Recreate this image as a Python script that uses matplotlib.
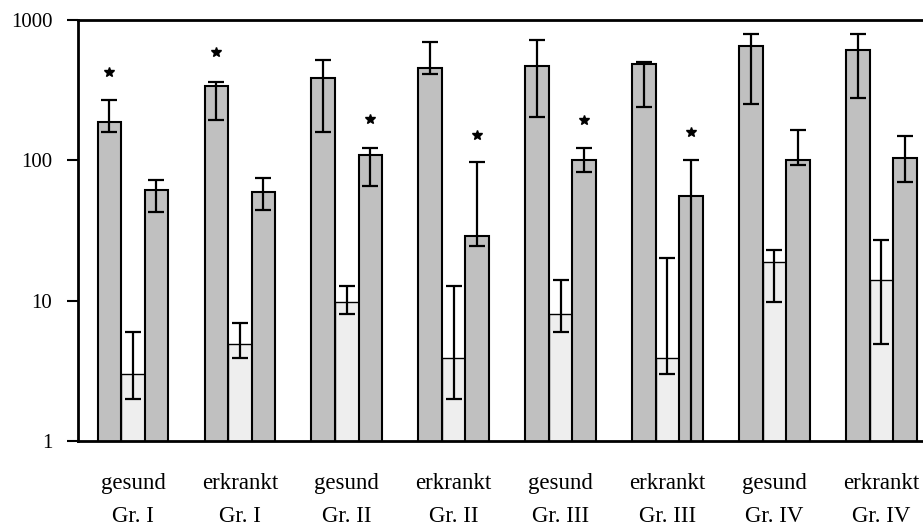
import numpy as np
import matplotlib
matplotlib.use('Agg')
import matplotlib.pyplot as plt

# data (log scale)
status = ['gesund', 'erkrankt', 'gesund', 'erkrankt', 'gesund', 'erkrankt', 'gesund', 'erkrankt']
groups = ['Gr. I', 'Gr. I', 'Gr. II', 'Gr. II', 'Gr. III', 'Gr. III', 'Gr. IV', 'Gr. IV']

a_val = [187, 337, 385, 453, 469, 484, 650, 609]
a_lo = [159, 195, 159, 415, 202, 238, 252, 278]
a_hi = [271, 364, 520, 698, 725, 503, 796, 796]

b_val = [3.0, 4.9, 9.8, 3.9, 8.0, 3.9, 18.8, 14.0]
b_lo = [2.0, 3.9, 8.1, 2.0, 6.0, 3.0, 9.8, 4.9]
b_hi = [6.0, 6.9, 12.8, 12.8, 14.1, 20.3, 23.0, 27.2]

c_val = [61, 59, 110, 28.8, 100, 55.5, 100, 103.5]
c_lo = [43, 44, 66, 24.7, 83, 0.5, 92, 70.5]
c_hi = [72.5, 75, 123, 97, 123, 101, 165, 149]

# significance stars: (group, bar 0=a / 2=c, height)
star_grp = [0, 1, 2, 3, 4, 5]
star_bar = [0, 0, 2, 2, 2, 2]
star_y = [427, 593, 197, 152, 194, 159]

dark = '#c0c0c0'
light = '#eeeeee'
w = 0.22

plt.rcParams['font.family'] = ['Liberation Serif', 'DejaVu Serif']

fig = plt.figure(figsize=(9.23, 5.27), dpi=100)
ax = fig.add_axes([78 / 923, 86 / 527, 1 - 78 / 923, 421 / 527])

x = np.arange(len(status))
series = [(a_val, a_lo, a_hi, dark, 1.5), (b_val, b_lo, b_hi, light, 1.0), (c_val, c_lo, c_hi, dark, 1.5)]
for k, (v, lo, hi, col, elw) in enumerate(series):
    v = np.array(v)
    xs = x + (k - 1) * w
    ax.bar(xs, v, width=w, bottom=0, color=col, edgecolor='black', linewidth=elw, zorder=2)
    err = [v - np.array(lo), np.array(hi) - v]
    ax.errorbar(xs, v, yerr=err, fmt='none', ecolor='black', elinewidth=1.6,
                capsize=5.5, capthick=1.6, zorder=3)

sx = [x[g] + (b - 1) * w for g, b in zip(star_grp, star_bar)]
ax.plot(sx, star_y, linestyle='none', marker='*', color='black', markersize=7.5, zorder=4)

ax.set_yscale('log')
ax.set_ylim(1, 1000)
ax.set_xlim(-0.514, 7.39)
ax.set_yticks([1, 10, 100, 1000])
ax.set_yticklabels(['1', '10', '100', '1000'], fontsize=15)
ax.yaxis.set_minor_locator(matplotlib.ticker.NullLocator())
ax.tick_params(axis='y', direction='out', length=8, width=1.5, pad=10.5)

ax.set_xticks(x)
ax.set_xticklabels([s + '\n' + g for s, g in zip(status, groups)], fontsize=16.5, linespacing=1.75)
ax.tick_params(axis='x', length=0, pad=23)

ax.spines['right'].set_visible(False)
for s in ['left', 'bottom', 'top']:
    ax.spines[s].set_linewidth(2)

fig.savefig('out.png', dpi=100)
